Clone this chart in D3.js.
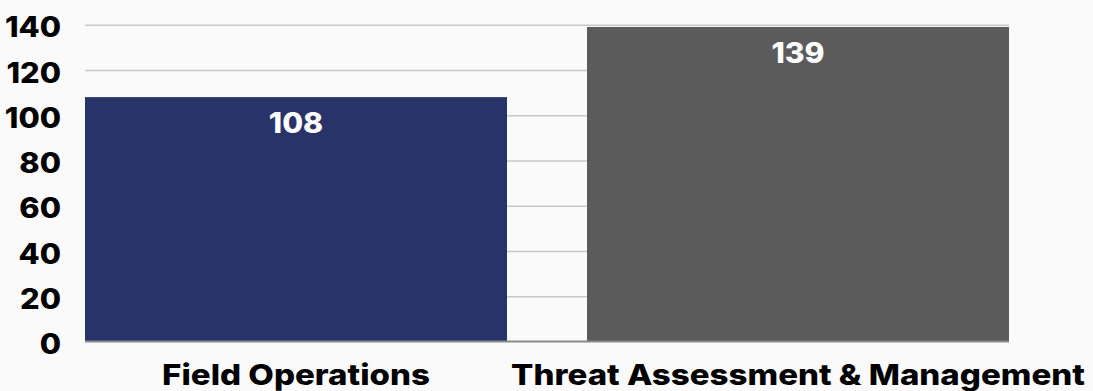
<!DOCTYPE html>
<html><head><meta charset="utf-8">
<script src="https://cdn.jsdelivr.net/npm/d3@7"></script>
<style>
html,body{margin:0;padding:0;background:#fafafa;}
svg{display:block;}
text{font-family:Inter,"Open Sans",sans-serif;font-weight:800;fill:#000;}
</style></head>
<body>
<svg id="chart" width="1093" height="391"></svg>
<script>
const categories = ["Field Operations", "Threat Assessment & Management"];
const values = [108, 139];
const colors = ["#283369", "#5b5b5b"];
const yTicks = [0, 20, 40, 60, 80, 100, 120, 140];

const W = 1093, H = 391;
const m = {left: 85, right: 84, top: 24.7, bottom: 49.5};
const svg = d3.select("#chart");
svg.append("rect").attr("width", W).attr("height", H).attr("fill", "#fafafa");

// widen glyphs to mimic the wider geometric face of the original
function widen(sel, f) {
  sel.each(function() {
    const w = this.getComputedTextLength();
    d3.select(this).attr("textLength", w * f).attr("lengthAdjust", "spacingAndGlyphs");
  });
}

const x = d3.scaleBand().domain(categories).range([m.left, W - m.right]).paddingInner(0.1594).paddingOuter(0);
const y = d3.scaleLinear().domain([0, 140]).range([H - m.bottom, m.top]);

// gridlines + y labels
const gAxisY = svg.append("g").attr("transform", `translate(${m.left},0)`)
  .call(d3.axisLeft(y).tickValues(yTicks).tickSize(-(W - m.left - m.right)).tickPadding(24).tickFormat(d3.format("d")));
gAxisY.select(".domain").remove();
gAxisY.selectAll(".tick line").attr("stroke", "#c8c8c8").attr("stroke-width", 1.5)
  .attr("display", d => d === 0 ? "none" : null);
gAxisY.selectAll(".tick text").attr("font-size", 28).attr("dy", "0.38em").attr("fill", "#000")
  .attr("font-family", "Inter, sans-serif").attr("font-weight", 900).attr("transform", "translate(0,1.5)")
  .call(widen, 1.1);

// bars
svg.append("g").selectAll("rect").data(values).join("rect")
  .attr("x", (d, i) => x(categories[i]))
  .attr("y", d => y(d))
  .attr("width", x.bandwidth())
  .attr("height", d => y(0) - y(d))
  .attr("fill", (d, i) => colors[i]);

// baseline
svg.append("line").attr("x1", m.left).attr("x2", W - m.right).attr("y1", y(0)).attr("y2", y(0))
  .attr("stroke", "#8a8a8a").attr("stroke-width", 2);

// value labels
svg.append("g").selectAll("text").data(values).join("text")
  .attr("x", (d, i) => x(categories[i]) + x.bandwidth() / 2)
  .attr("y", d => y(d) + 36)
  .attr("text-anchor", "middle").attr("font-size", 28).style("fill", "#fff")
  .text(d => d)
  .call(widen, 1.08);

// category labels
const gAxisX = svg.append("g").attr("transform", `translate(0,${y(0)})`)
  .call(d3.axisBottom(x).tickSize(0).tickPadding(0));
gAxisX.select(".domain").remove();
gAxisX.selectAll(".tick text").attr("font-size", 29).attr("dy", 0).attr("y", 43)
  .attr("fill", "#000").attr("font-family", "Inter, sans-serif").attr("font-weight", 800)
  .call(widen, 1.14);
</script>
</body></html>
